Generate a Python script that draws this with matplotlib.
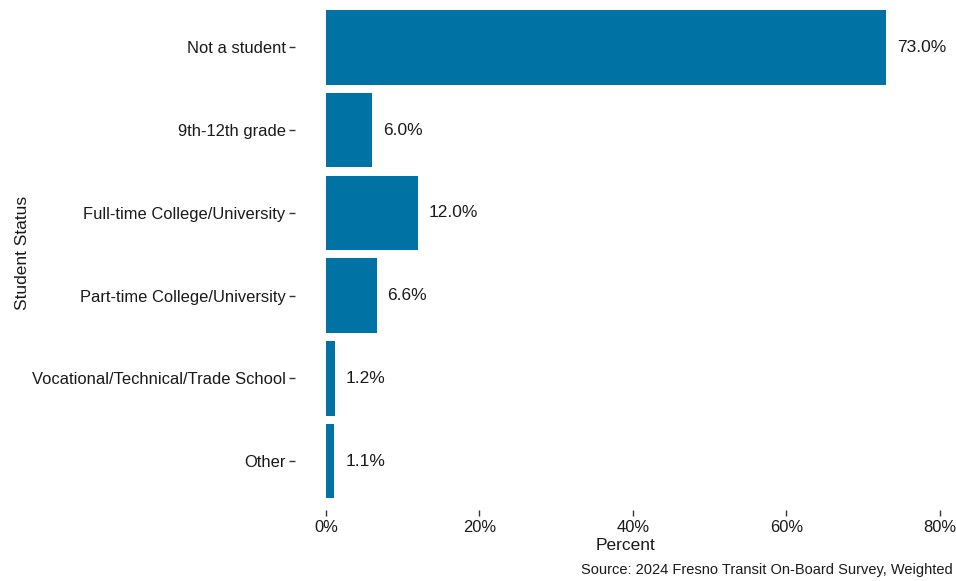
import matplotlib.pyplot as plt

plt.rcParams['font.family'] = ['Liberation Sans', 'DejaVu Sans']

categories = ["Not a student", "9th-12th grade", "Full-time College/University",
              "Part-time College/University", "Vocational/Technical/Trade School", "Other"]
percents = [73.0, 6.0, 12.0, 6.6, 1.2, 1.1]

W, H = 956, 581
fig = plt.figure(figsize=(W / 100, H / 100), dpi=100)
# panel in pixel coords: left 295, right 955, top -4, bottom 510
ax = fig.add_axes([295.3 / W, (H - 510) / H, (955 - 295.3) / W, 514 / H])

pos = list(range(len(categories)))
ax.barh(pos, percents, height=0.9, color="#0072A3")
for p, v in zip(pos, percents):
    ax.text(v + 1.4, p, f"{v:.1f}%", va="center", ha="left", fontsize=12.5, color="#1a1a1a", clip_on=False)

ax.set_xlim(-4, 82)
ax.set_ylim(5.59, -0.62)
ax.set_yticks(pos)
ax.set_yticklabels(categories)
ax.set_xticks([0, 20, 40, 60, 80])
ax.set_xticklabels(["0%", "20%", "40%", "60%", "80%"])
ax.tick_params(axis="both", length=4, width=1, color="#333333", labelsize=11.9, labelcolor="#1a1a1a", pad=3)
for s in ax.spines.values():
    s.set_visible(False)

ax.set_xlabel("Percent", fontsize=12.5, color="#1a1a1a")
ax.xaxis.set_label_coords(0.5, -0.055)
ax.set_ylabel("Student Status", fontsize=12.5, color="#1a1a1a")
ax.yaxis.set_label_coords(-0.402, 0.5)

fig.text(953 / W, 1 - 570 / H, "Source: 2024 Fresno Transit On-Board Survey, Weighted",
         ha="right", va="center", fontsize=10.5, color="#1a1a1a")

fig.savefig("out.png", dpi=100)
